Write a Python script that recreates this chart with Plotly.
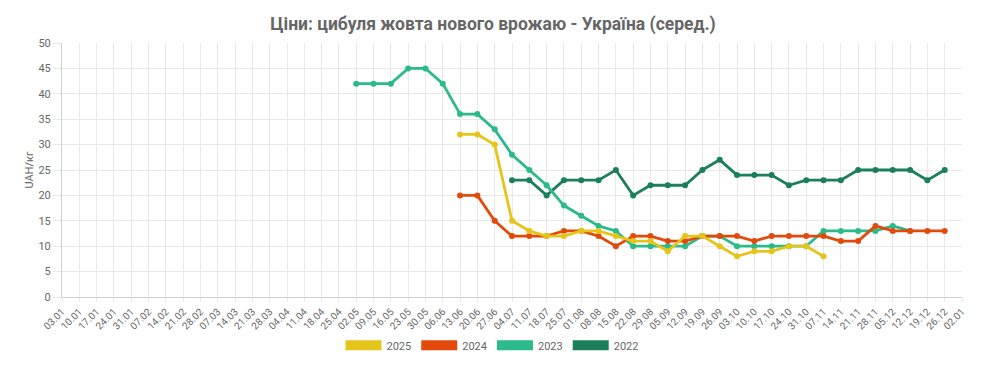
import plotly.graph_objects as go

dates = ["03.01","10.01","17.01","24.01","31.01","07.02","14.02","21.02","28.02","07.03",
         "14.03","21.03","28.03","04.04","11.04","18.04","25.04","02.05","09.05","16.05",
         "23.05","30.05","06.06","13.06","20.06","27.06","04.07","11.07","18.07","25.07",
         "01.08","08.08","15.08","22.08","29.08","05.09","12.09","19.09","26.09","03.10",
         "10.10","17.10","24.10","31.10","07.11","14.11","21.11","28.11","05.12","12.12",
         "19.12","26.12","02.01"]

N = None
y2025 = [N]*23 + [32, 32, 30, 15, 13, 12, 12, 13, 13, 12, 11, 11, 9, 12, 12, 10, 8, 9, 9, 10, 10, 8] + [N]*8
y2024 = [N]*23 + [20, 20, 15, 12, 12, 12, 13, 13, 12, 10, 12, 12, 11, 11, 12, 12, 12, 11, 12, 12, 12,
                  12, 11, 11, 14, 13, 13, 13, 13] + [N]
y2023 = [N]*17 + [42, 42, 42, 45, 45, 42, 36, 36, 33, 28, 25, 22, 18, 16, 14, 13, 10, 10, 10, 10, 12,
                  12, 10, 10, 10, 10, 10, 13, 13, 13, 13, 14, 13] + [N]*3
y2022 = [N]*26 + [23, 23, 20, 23, 23, 23, 25, 20, 22, 22, 22, 25, 27, 24, 24, 24, 22, 23, 23, 23,
                  25, 25, 25, 25, 23, 25] + [N]

series = [("2025", y2025, "#E6C51A"),
          ("2024", y2024, "#E24A0C"),
          ("2023", y2023, "#2BBA8B"),
          ("2022", y2022, "#1B7F5B")]

fig = go.Figure()
for name, ys, col in reversed(series):
    fig.add_trace(go.Scatter(x=dates, y=ys, mode="lines+markers", name=name,
                             line=dict(color=col, width=2.8), marker=dict(color=col, size=6),
                             connectgaps=False, showlegend=False))
for name, ys, col in series:
    fig.add_trace(go.Scatter(x=[None], y=[None], mode="lines", name=name,
                             line=dict(color=col, width=13), showlegend=True))

fig.update_layout(
    width=982, height=373,
    margin=dict(l=54, r=28, t=35, b=84, autoexpand=False),
    paper_bgcolor="white", plot_bgcolor="white",
    font=dict(family="Roboto, Arial, sans-serif", color="#666", size=11),
    title=dict(text="<b>Ціни: цибуля жовта нового врожаю - Україна (серед.)</b>",
               x=(493 - 8) / 982, xanchor="center", y=1 - 16/373, yanchor="middle",
               font=dict(size=17.5, color="#666", family="Roboto, Arial, sans-serif")),
    legend=dict(orientation="h", x=(492 - 8 - 54) / 900, xanchor="center", y=-0.19, yanchor="middle",
                font=dict(size=11, color="#666"), traceorder="normal", itemwidth=36),
    showlegend=True,
)
fig.update_xaxes(type="category", range=[0, len(dates) - 1], tickangle=-45, automargin=False,
                 showgrid=True, gridcolor="#e8e8e8", gridwidth=1,
                 showline=True, linecolor="#d0d0d0", linewidth=1,
                 ticks="outside", ticklen=4, tickcolor="#e8e8e8",
                 tickfont=dict(size=10, color="#666"))
fig.update_yaxes(range=[0, 50], dtick=5, showgrid=True, gridcolor="#e8e8e8", gridwidth=1,
                 showline=True, linecolor="#d0d0d0", linewidth=1, automargin=False,
                 ticks="outside", ticklen=8, tickcolor="#e8e8e8",
                 zeroline=False,
                 tickfont=dict(size=11, color="#666"),
                 title=dict(text="UAH/кг", font=dict(size=11, color="#666"), standoff=2))

fig.write_html("out.html")
